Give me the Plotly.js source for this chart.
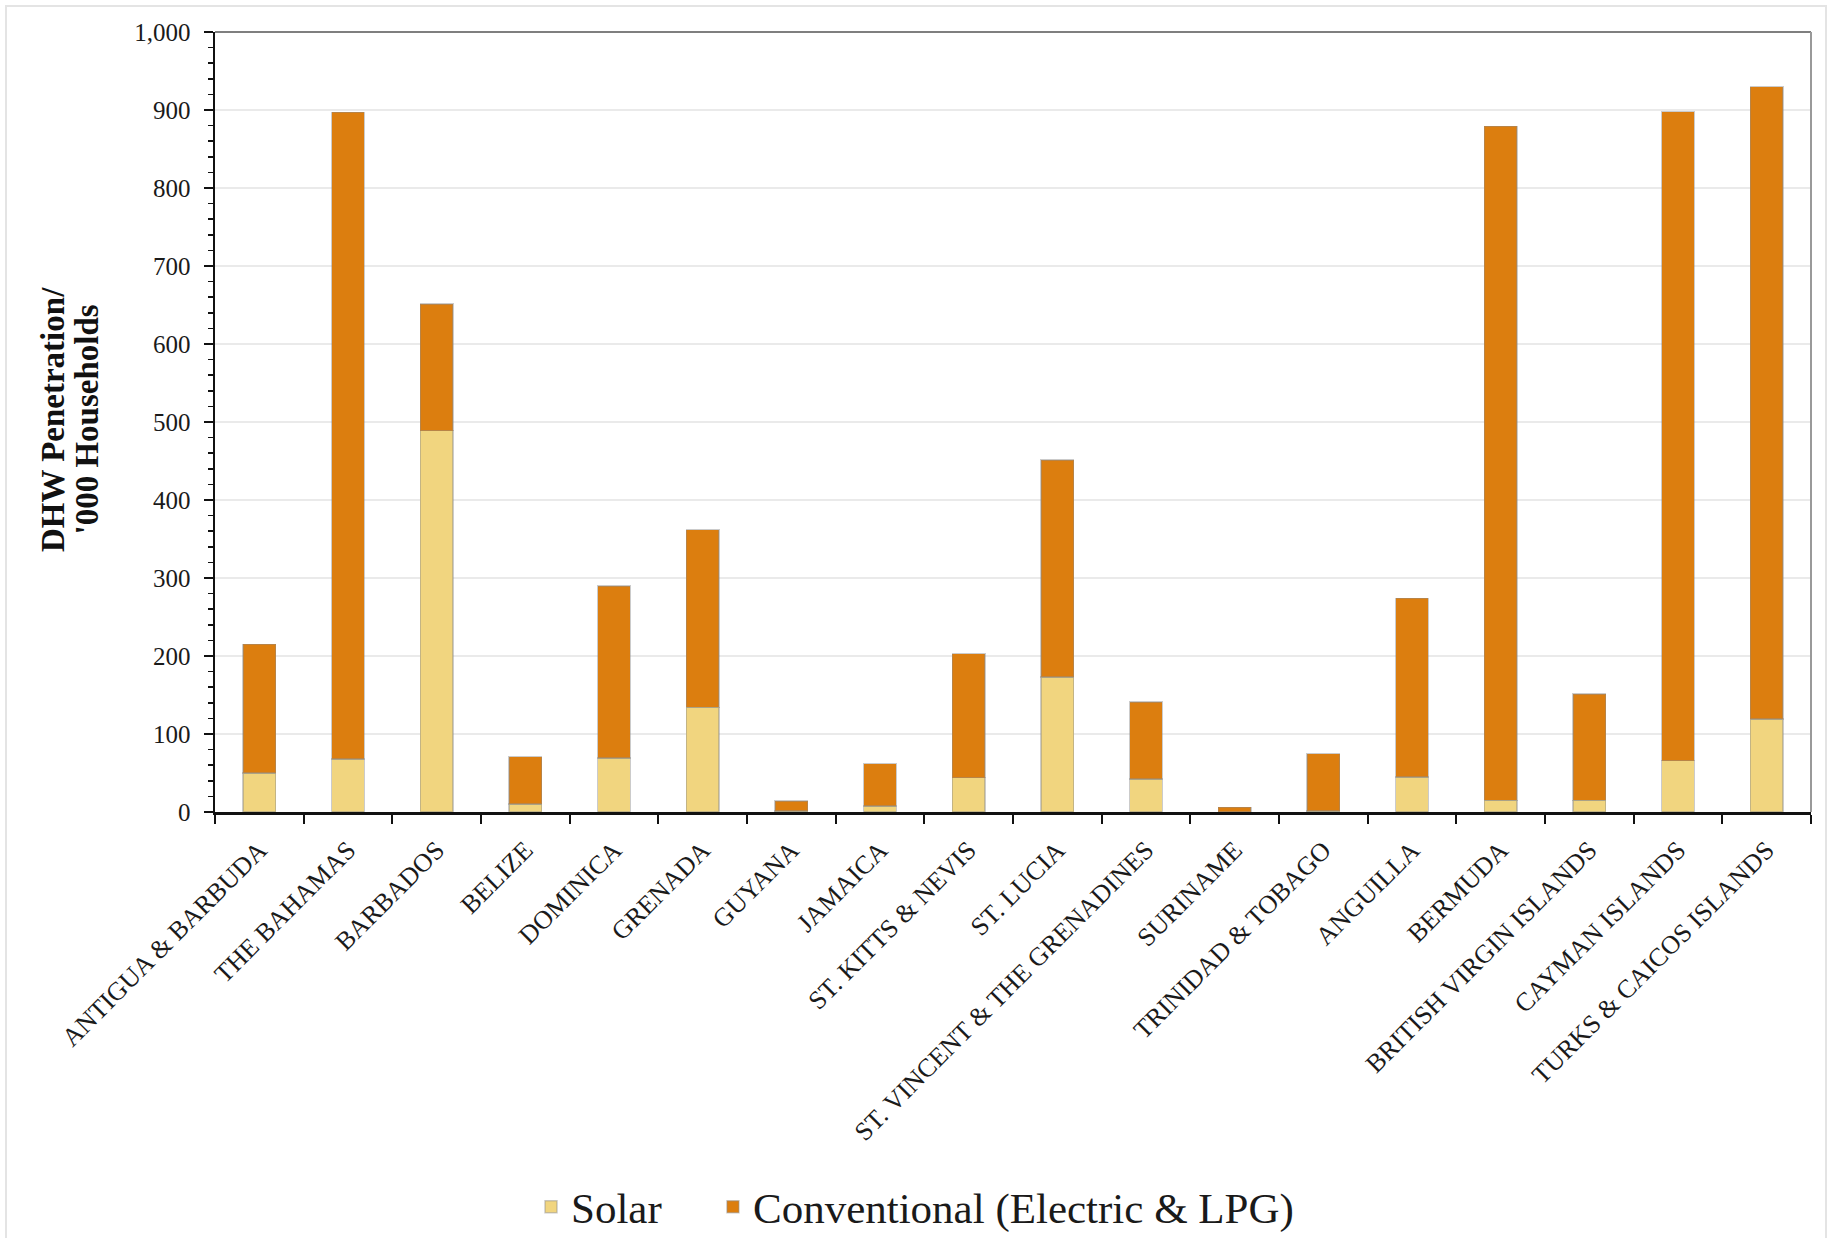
<!DOCTYPE html>
<html>
<head>
<meta charset="utf-8">
<script src="https://cdn.plot.ly/plotly-3.0.1.min.js"></script>
<style>
  html, body { margin: 0; padding: 0; background: #ffffff; }
  #frame { position: absolute; left: 5px; top: 5px; width: 1822px; height: 1250px; border: 2px solid #e4e4e4; box-sizing: border-box; pointer-events: none; z-index: 5; }
  #chart { width: 1833px; height: 1238px; }
</style>
</head>
<body>
<div id="frame"></div>
<div id="chart"></div>
<script>
const categories = [
  "ANTIGUA & BARBUDA", "THE BAHAMAS", "BARBADOS", "BELIZE", "DOMINICA",
  "GRENADA", "GUYANA", "JAMAICA", "ST. KITTS & NEVIS", "ST. LUCIA",
  "ST. VINCENT & THE GRENADINES", "SURINAME", "TRINIDAD & TOBAGO", "ANGUILLA",
  "BERMUDA", "BRITISH VIRGIN ISLANDS", "CAYMAN ISLANDS", "TURKS & CAICOS ISLANDS"
];
const solarValues = [50, 68, 489, 10, 69, 134, 1, 8, 44, 173, 42, 0, 1, 45, 15, 15, 66, 119];
const conventionalValues = [165, 829, 162, 61, 221, 228, 13, 54, 159, 278, 99, 6, 74, 229, 864, 136, 832, 811];
const yTickValues = [0, 100, 200, 300, 400, 500, 600, 700, 800, 900, 1000];
const seriesNames = ["Solar", "Conventional (Electric & LPG)"];
const yTitleLines = ["DHW Penetration/", "'000 Households"];

const serif = "Liberation Serif, Times New Roman, serif";

const traces = [
  {
    type: "bar", name: seriesNames[0], x: categories, y: solarValues, legend: "legend",
    marker: { color: "#F1D57F", line: { color: "rgba(140,140,140,0.45)", width: 1.5 } },
    width: 0.37
  },
  {
    type: "bar", name: seriesNames[1], x: categories, y: conventionalValues, legend: "legend2",
    marker: { color: "#DC7E0F", line: { color: "rgba(140,140,140,0.45)", width: 1.5 } },
    width: 0.37
  }
];

const legendCommon = {
  orientation: "h", xanchor: "left", y: -0.506, yanchor: "middle",
  font: { family: serif, size: 43, color: "#1a1a1a" },
  itemclick: false, bgcolor: "rgba(0,0,0,0)"
};

const layout = {
  width: 1833, height: 1238,
  barmode: "stack",
  paper_bgcolor: "#ffffff", plot_bgcolor: "#ffffff",
  margin: { l: 215, r: 22, t: 32, b: 426, autoexpand: false },
  font: { family: serif, color: "#1a1a1a" },
  showlegend: true,
  legend: Object.assign({}, legendCommon, { x: 0.198 }),
  legend2: Object.assign({}, legendCommon, { x: 0.312 }),
  xaxis: {
    type: "category",
    tickangle: -45,
    tickfont: { family: serif, size: 26, color: "#1a1a1a" },
    showline: true, linecolor: "#111", linewidth: 2.5,
    ticks: "outside", tickson: "boundaries", ticklen: 9, tickwidth: 2, tickcolor: "#111",
    ticklabelstandoff: 10,
    showgrid: false, zeroline: false,
    automargin: false
  },
  yaxis: {
    range: [0, 1000],
    tickvals: yTickValues,
    tickformat: ",d",
    tickfont: { family: serif, size: 25, color: "#1a1a1a" },
    showline: true, linecolor: "#111", linewidth: 2.5,
    ticks: "outside", ticklen: 9, tickwidth: 2, tickcolor: "#111",
    ticklabelstandoff: 8,
    minor: { dtick: 20, ticks: "outside", ticklen: 5, tickwidth: 1.5, tickcolor: "#111", showgrid: false },
    showgrid: true, gridcolor: "#eaeaea", gridwidth: 1.5,
    zeroline: false,
    automargin: false
  },
  annotations: [
    { xref: "paper", yref: "paper", x: -0.1015, y: 0.5026, xanchor: "center", yanchor: "middle",
      textangle: -90, showarrow: false, text: "<b>" + yTitleLines[0] + "</b>",
      font: { family: serif, size: 33, color: "#111" } },
    { xref: "paper", yref: "paper", x: -0.0805, y: 0.5026, xanchor: "center", yanchor: "middle",
      textangle: -90, showarrow: false, text: "<b>" + yTitleLines[1] + "</b>",
      font: { family: serif, size: 33, color: "#111" } }
  ],
  shapes: [
    { type: "line", xref: "paper", yref: "paper", x0: 0, x1: 1, y0: 1, y1: 1, line: { color: "#555", width: 1.5 } },
    { type: "line", xref: "paper", yref: "paper", x0: 1, x1: 1, y0: 0, y1: 1, line: { color: "#999", width: 2 } }
  ]
};

Plotly.newPlot("chart", traces, layout, { displayModeBar: false, staticPlot: true });
</script>
</body>
</html>
